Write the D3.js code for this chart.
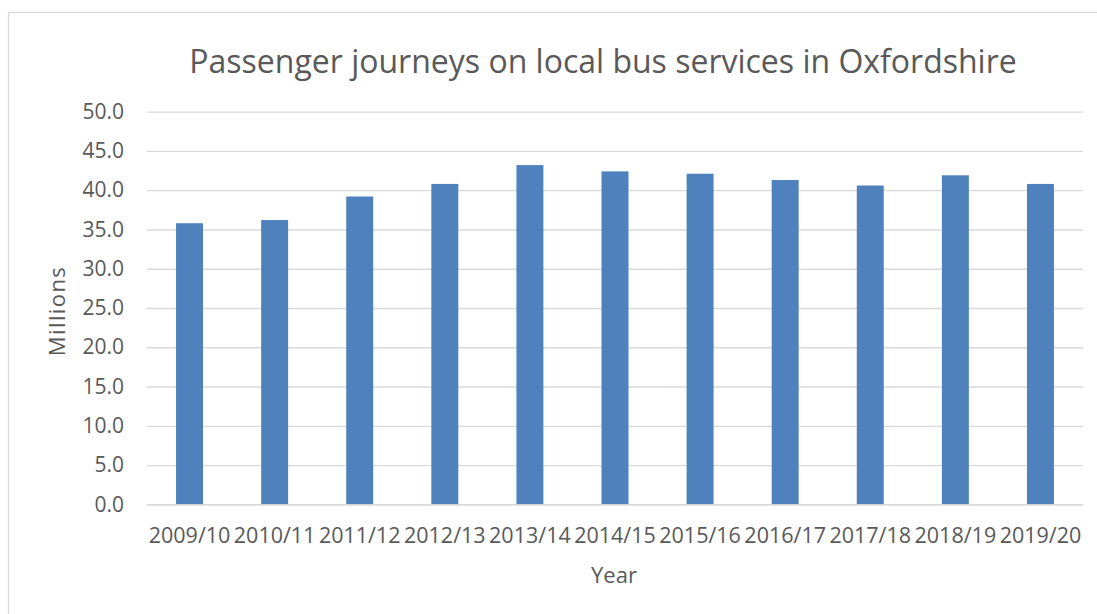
<!DOCTYPE html>
<html>
<head>
<meta charset="utf-8">
<script src="https://cdn.jsdelivr.net/npm/d3@7"></script>
<style>
  html, body { margin: 0; padding: 0; background: #ffffff; }
  svg { display: block; }
  text { font-family: "Open Sans", sans-serif; fill: #595959; }
</style>
</head>
<body>
<svg id="chart" width="1097" height="614"></svg>
<script>
const categories = ["2009/10","2010/11","2011/12","2012/13","2013/14","2014/15","2015/16","2016/17","2017/18","2018/19","2019/20"];
const journeys = [35.8, 36.2, 39.2, 40.8, 43.2, 42.4, 42.1, 41.3, 40.6, 41.9, 40.8];
const yTicks = [0, 5, 10, 15, 20, 25, 30, 35, 40, 45, 50];
const titleText = "Passenger journeys on local bus services in Oxfordshire";
const yTitle = "Millions";
const xTitle = "Year";

const svg = d3.select("#chart");
const plot = { left: 147, right: 1083, top: 111.7, bottom: 504.3 };

// chart area border (extends beyond right/bottom edges)
svg.append("rect")
  .attr("x", 8.5).attr("y", 12.5)
  .attr("width", 1200).attr("height", 700)
  .attr("fill", "#ffffff")
  .attr("stroke", "#d9d9d9").attr("stroke-width", 1.3);

const x = d3.scaleBand()
  .domain(categories)
  .range([plot.left, plot.right])
  .paddingInner(0.683)
  .paddingOuter(0.3415);

const y = d3.scaleLinear()
  .domain([0, 50])
  .range([plot.bottom, plot.top]);

// gridlines + y tick labels
const yAxis = d3.axisLeft(y)
  .tickValues(yTicks)
  .tickSize(-(plot.right - plot.left))
  .tickPadding(23)
  .tickFormat(d3.format(".1f"));

const gy = svg.append("g")
  .attr("transform", `translate(${plot.left},0)`)
  .call(yAxis);
gy.select(".domain").remove();
gy.selectAll(".tick line").attr("stroke", "#d9d9d9").attr("stroke-width", 1.3);
gy.selectAll(".tick text")
  .attr("font-size", 21)
  .attr("fill", "#595959")
  .style("font-family", "'Open Sans', sans-serif");

// bars
svg.append("g").selectAll("rect")
  .data(journeys)
  .join("rect")
  .attr("x", (d, i) => x(categories[i]))
  .attr("width", x.bandwidth())
  .attr("y", d => y(d))
  .attr("height", d => y(0) - y(d))
  .attr("fill", "#4f81bd");

// x axis
const xAxis = d3.axisBottom(x).tickSize(0).tickPadding(23);
const gx = svg.append("g")
  .attr("transform", `translate(0,${plot.bottom})`)
  .call(xAxis);
gx.select(".domain")
  .attr("stroke", "#d9d9d9").attr("stroke-width", 1.3);
gx.selectAll(".tick text")
  .attr("font-size", 21.5)
  .attr("fill", "#595959")
  .style("font-family", "'Open Sans', sans-serif");

// title
svg.append("text")
  .attr("x", 603).attr("y", 73)
  .attr("text-anchor", "middle")
  .attr("font-size", 32)
  .text(titleText);

// y axis title
svg.append("text")
  .attr("transform", `translate(65,311) rotate(-90)`)
  .attr("text-anchor", "middle")
  .attr("font-size", 22)
  .attr("letter-spacing", 1.4)
  .text(yTitle);

// x axis title
svg.append("text")
  .attr("x", 614).attr("y", 583)
  .attr("text-anchor", "middle")
  .attr("font-size", 22)
  .text(xTitle);
</script>
</body>
</html>
